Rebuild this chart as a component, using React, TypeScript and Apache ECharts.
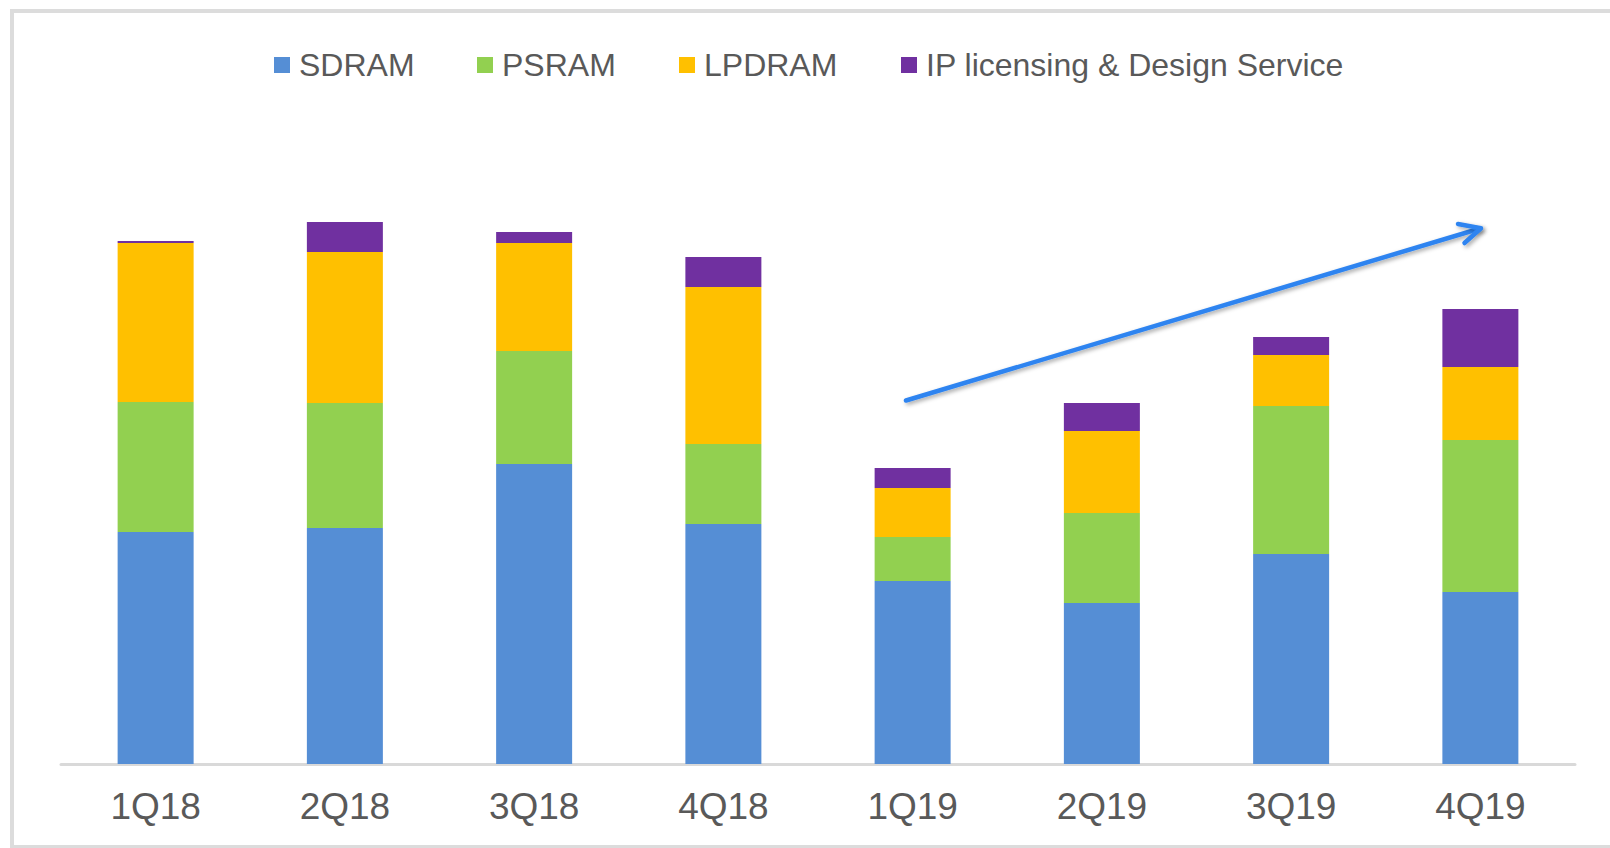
import React, { useEffect, useRef } from "react";
import * as echarts from "echarts";

const categories = ["1Q18", "2Q18", "3Q18", "4Q18", "1Q19", "2Q19", "3Q19", "4Q19"];
const seriesNames = ["SDRAM", "PSRAM", "LPDRAM", "IP licensing & Design Service"];
const sdram = [232, 236, 300, 240, 183, 161, 210, 172];
const psram = [130, 125, 113, 80, 44, 90, 148, 152];
const lpdram = [159, 151, 108, 157, 49, 82, 51, 73];
const ipDesign = [2, 30, 11, 30, 20, 28, 18, 58];
const colors = ["#558ED5", "#92D050", "#FFC000", "#7030A0"];
const legendLefts = [269, 472, 674, 896];

export default function App() {
  const ref = useRef<HTMLDivElement>(null);
  useEffect(() => {
    if (!ref.current) return;
    const chart = echarts.init(ref.current, undefined, { renderer: "svg" });
    const values = [sdram, psram, lpdram, ipDesign];
    const arrowShadow = {
      shadowBlur: 4,
      shadowColor: "rgba(0,0,0,0.35)",
      shadowOffsetX: 2,
      shadowOffsetY: 2,
    };
    chart.setOption({
      animation: false,
      backgroundColor: "#ffffff",
      legend: seriesNames.map((name, i) => ({
        data: [name],
        left: legendLefts[i],
        top: 44,
        icon: "rect",
        itemWidth: 16,
        itemHeight: 16,
        itemGap: 0,
        textStyle: {
          color: "#595959",
          fontSize: 32,
          fontFamily: "Liberation Sans, Arial, sans-serif",
          padding: [0, 0, 0, 4],
        },
      })),
      grid: { left: 61, right: 35, top: 64, bottom: 84 },
      xAxis: {
        type: "category",
        data: categories,
        axisLine: { lineStyle: { color: "#D9D9D9", width: 3 } },
        axisTick: { show: false },
        axisLabel: {
          color: "#595959",
          fontSize: 37,
          margin: 24,
          fontFamily: "Liberation Sans, Arial, sans-serif",
        },
      },
      yAxis: {
        type: "value",
        min: 0,
        max: 700,
        show: false,
        splitLine: { show: false },
      },
      series: seriesNames.map((name, i) => ({
        name,
        type: "bar",
        stack: "total",
        barWidth: 76,
        data: values[i],
        itemStyle: { color: colors[i] },
        emphasis: { disabled: true },
      })),
      graphic: [
        {
          type: "rect",
          shape: { x: 12, y: 11, width: 1610, height: 836 },
          style: { fill: "none", stroke: "#DCDCDC", lineWidth: 4 },
          silent: true,
        },
        {
          type: "line",
          shape: { x1: 906, y1: 400.5, x2: 1480, y2: 228.5 },
          style: { stroke: "#2F84F0", lineWidth: 4.5, lineCap: "round", ...arrowShadow },
          silent: true,
        },
        {
          type: "polyline",
          shape: { points: [[1458, 224], [1481, 228.3], [1464.5, 243]] },
          style: {
            stroke: "#2F84F0",
            fill: "none",
            lineWidth: 4.5,
            lineCap: "round",
            lineJoin: "round",
            ...arrowShadow,
          },
          silent: true,
        },
      ],
    });
    return () => chart.dispose();
  }, []);
  return (
    <div
      ref={ref}
      style={{ position: "fixed", left: 0, top: 0, width: 1610, height: 848 }}
    />
  );
}
